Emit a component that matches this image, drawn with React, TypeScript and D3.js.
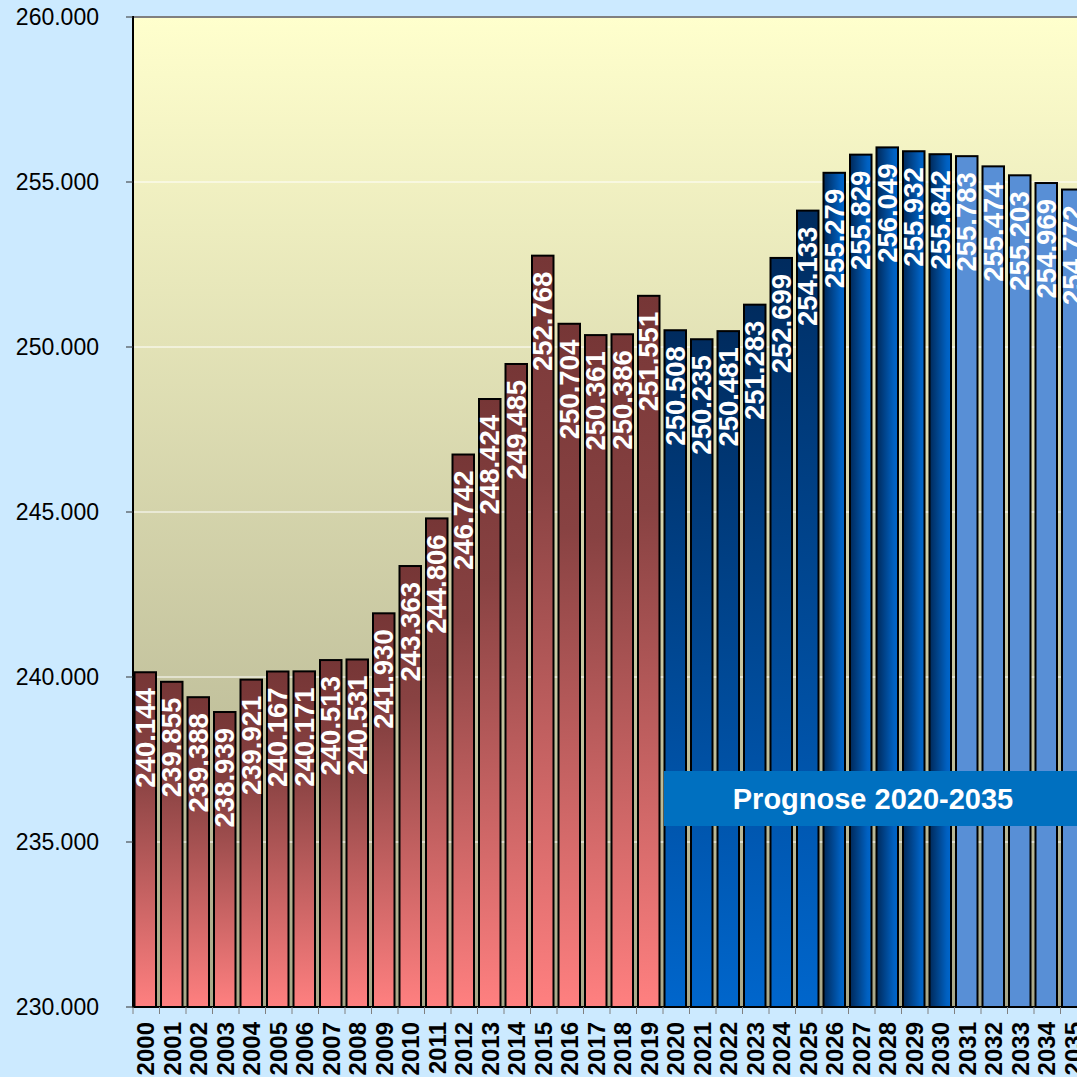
import * as d3 from 'd3';

const years = [
  '2000', '2001', '2002', '2003', '2004', '2005', '2006', '2007', '2008', '2009',
  '2010', '2011', '2012', '2013', '2014', '2015', '2016', '2017', '2018', '2019',
  '2020', '2021', '2022', '2023', '2024', '2025', '2026', '2027', '2028', '2029',
  '2030', '2031', '2032', '2033', '2034', '2035',
];

const values = [
  240144, 239855, 239388, 238939, 239921, 240167, 240171, 240513, 240531, 241930,
  243363, 244806, 246742, 248424, 249485, 252768, 250704, 250361, 250386, 251551,
  250508, 250235, 250481, 251283, 252699, 254133, 255279, 255829, 256049, 255932,
  255842, 255783, 255474, 255203, 254969, 254772,
];

// which fill each bar uses
const barStyle = [
  'hist', 'hist', 'hist', 'hist', 'hist', 'hist', 'hist', 'hist', 'hist', 'hist',
  'hist', 'hist', 'hist', 'hist', 'hist', 'hist', 'hist', 'hist', 'hist', 'hist',
  'progV', 'progV', 'progV', 'progV', 'progV', 'progV',
  'progH', 'progH', 'progH', 'progH', 'progH',
  'flat', 'flat', 'flat', 'flat', 'flat',
];

const yTicks = [230000, 235000, 240000, 245000, 250000, 255000, 260000];
const prognoseLabel = 'Prognose 2020-2035';

const W = 1077;
const H = 1077;
const margin = { left: 133, top: 17, bottom: 70 };
const plotRight = 1087;
const plotBottom = H - margin.bottom;

const de = d3.formatLocale({ decimal: ',', thousands: '.', grouping: [3], currency: ['', '€'] });
const fmt = de.format(',');
const fmtTick = (v: number) => de.format(',')(v / 1000) + '.000';

const FILLS: Record<string, string> = {
  hist: 'url(#g-hist)',
  progV: 'url(#g-progV)',
  progH: 'url(#g-progH)',
  flat: '#588fd6',
};

export default function App() {
  const x = d3.scaleBand<string>().domain(years).range([margin.left, plotRight]).padding(0);
  const y = d3.scaleLinear().domain([230000, 260000]).range([plotBottom, margin.top]);
  const bw = x.bandwidth();
  const font = '"Liberation Sans", Arial, sans-serif';

  return (
    <div style={{ position: 'fixed', left: 0, top: 0, width: W, height: H, overflow: 'hidden' }}>
      <svg width={W} height={H} style={{ display: 'block', fontFamily: font }}>
        <defs>
          <linearGradient id="g-bg" x1="0" y1="0" x2="0" y2="1">
            <stop offset="0" stopColor="#ffffcd" />
            <stop offset="1" stopColor="#a9a889" />
          </linearGradient>
          <linearGradient id="g-hist" x1="0" y1="0" x2="0" y2="1">
            <stop offset="0" stopColor="#763636" />
            <stop offset="0.3" stopColor="#884242" />
            <stop offset="1" stopColor="#ff8080" />
          </linearGradient>
          <linearGradient id="g-progV" x1="0" y1="0" x2="0" y2="1">
            <stop offset="0" stopColor="#002b5e" />
            <stop offset="1" stopColor="#0066cc" />
          </linearGradient>
          <linearGradient id="g-progH" x1="0" y1="0" x2="1" y2="0">
            <stop offset="0" stopColor="#00295a" />
            <stop offset="0.8" stopColor="#0060c0" />
            <stop offset="1" stopColor="#0066cc" />
          </linearGradient>
        </defs>

        <rect x={0} y={0} width={W} height={H} fill="#cceaff" />
        <rect
          x={margin.left}
          y={margin.top}
          width={plotRight - margin.left}
          height={plotBottom - margin.top}
          fill="url(#g-bg)"
        />

        {/* grid */}
        {yTicks.slice(1, -1).map(t => (
          <line key={t} x1={margin.left} x2={plotRight} y1={y(t)} y2={y(t)} stroke="#ffffff" strokeWidth={1} />
        ))}

        {/* bars */}
        {years.map((yr, i) => {
          const x0 = x(yr)!;
          const top = y(values[i]);
          return (
            <rect
              key={yr}
              x={x0 + 1.5}
              y={top}
              width={bw - 5}
              height={plotBottom - top}
              fill={FILLS[barStyle[i]]}
              stroke="#000"
              strokeWidth={2}
            />
          );
        })}

        {/* value labels */}
        {years.map((yr, i) => {
          const cx = x(yr)! + 1.5 + (bw - 5) / 2;
          const ty = y(values[i]) + 16;
          return (
            <text
              key={yr}
              transform={`translate(${cx},${ty}) rotate(-90)`}
              textAnchor="end"
              dominantBaseline="central"
              fill="#fff"
              fontWeight="bold"
              fontSize={27.5}
            >
              {fmt(values[i])}
            </text>
          );
        })}

        {/* frame */}
        <line x1={margin.left} x2={plotRight} y1={margin.top} y2={margin.top} stroke="#808080" strokeWidth={2} />
        <line x1={margin.left} x2={plotRight} y1={plotBottom} y2={plotBottom} stroke="#000" strokeWidth={2} />
        <line x1={margin.left} x2={margin.left} y1={margin.top - 1} y2={plotBottom + 1} stroke="#000" strokeWidth={2} />

        {/* y axis */}
        {yTicks.map(t => (
          <g key={t}>
            <line x1={margin.left - 7} x2={margin.left} y1={y(t)} y2={y(t)} stroke="#333" strokeWidth={1} />
            <text x={99} y={y(t)} textAnchor="end" dominantBaseline="central" fontSize={23} fill="#000">
              {fmtTick(t)}
            </text>
          </g>
        ))}

        {/* x axis */}
        {years.map(yr => (
          <line
            key={'t' + yr}
            x1={x(yr)!}
            x2={x(yr)!}
            y1={plotBottom}
            y2={plotBottom + 7}
            stroke="#808080"
            strokeWidth={1}
          />
        ))}
        {years.map(yr => (
          <text
            key={'l' + yr}
            transform={`translate(${x(yr)! + bw / 2 - 0.5},${plotBottom + 15}) rotate(-90)`}
            textAnchor="end"
            dominantBaseline="central"
            fontWeight="bold"
            fontSize={24}
            fill="#000"
          >
            {yr}
          </text>
        ))}

        {/* prognose box */}
        <rect x={x('2020')! + 1} y={771} width={plotRight - x('2020')!} height={55} fill="#0070c0" />
        <text
          x={873}
          y={798.5}
          textAnchor="middle"
          dominantBaseline="central"
          fill="#fff"
          fontWeight="bold"
          fontSize={29}
        >
          {prognoseLabel}
        </text>
      </svg>
    </div>
  );
}
